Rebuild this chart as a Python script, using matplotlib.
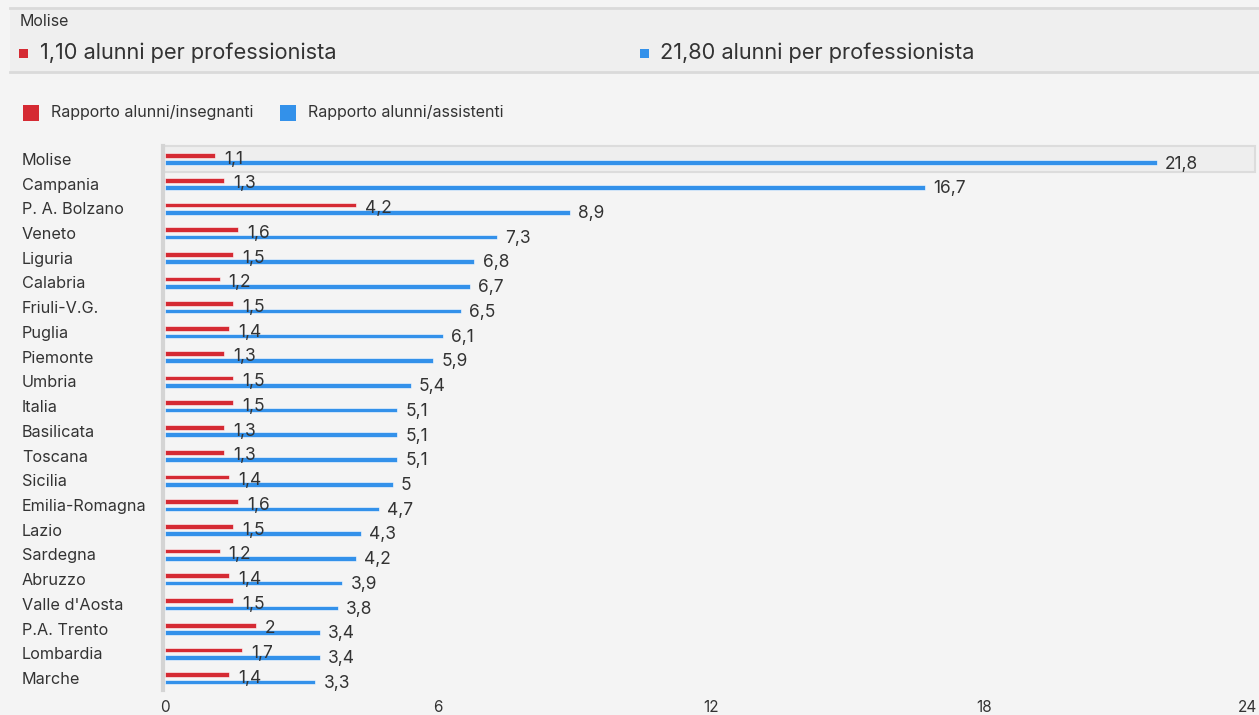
import matplotlib
matplotlib.use("Agg")
import matplotlib.pyplot as plt
from matplotlib.patches import Rectangle
from matplotlib.transforms import blended_transform_factory

plt.rcParams['font.family'] = ['Inter', 'DejaVu Sans']

regioni = ["Molise", "Campania", "P. A. Bolzano", "Veneto", "Liguria", "Calabria",
           "Friuli-V.G.", "Puglia", "Piemonte", "Umbria", "Italia", "Basilicata",
           "Toscana", "Sicilia", "Emilia-Romagna", "Lazio", "Sardegna", "Abruzzo",
           "Valle d'Aosta", "P.A. Trento", "Lombardia", "Marche"]
insegnanti = [1.1, 1.3, 4.2, 1.6, 1.5, 1.2, 1.5, 1.4, 1.3, 1.5, 1.5, 1.3,
              1.3, 1.4, 1.6, 1.5, 1.2, 1.4, 1.5, 2, 1.7, 1.4]
assistenti = [21.8, 16.7, 8.9, 7.3, 6.8, 6.7, 6.5, 6.1, 5.9, 5.4, 5.1, 5.1,
              5.1, 5, 4.7, 4.3, 4.2, 3.9, 3.8, 3.4, 3.4, 3.3]
serie = ["Rapporto alunni/insegnanti", "Rapporto alunni/assistenti"]
xticks = [0, 6, 12, 18, 24]
selezione = 0  # riga evidenziata (Molise)

RED = '#d52a33'
BLUE = '#3391ea'
BG = '#f4f4f4'
TXT = '#333333'


def fmt(v):
    return f"{v:g}".replace('.', ',')


W, H = 1259, 715
fig = plt.figure(figsize=(W / 100, H / 100), dpi=100, facecolor=BG)

# header box
fig.patches.append(Rectangle((10 / W, 1 - 72 / H), 1, 64 / H, transform=fig.transFigure,
                             facecolor='#efefef', edgecolor='none', zorder=0))
for yy in (8, 72):
    fig.add_artist(plt.Line2D([10 / W, 1], [1 - yy / H, 1 - yy / H], color='#dadada', lw=2))
fig.text(20 / W, 1 - 22 / H, regioni[selezione], fontsize=11.5, color=TXT, va='center')
fig.patches.append(Rectangle((19 / W, 1 - 58 / H), 9 / W, 9 / H, transform=fig.transFigure,
                             facecolor=RED, edgecolor='none'))
fig.text(40 / W, 1 - 53 / H, f"{insegnanti[selezione]:.2f}".replace('.', ',') + " alunni per professionista",
         fontsize=15.7, color=TXT, va='center')
fig.patches.append(Rectangle((640 / W, 1 - 58 / H), 9 / W, 9 / H, transform=fig.transFigure,
                             facecolor=BLUE, edgecolor='none'))
fig.text(660 / W, 1 - 53 / H, f"{assistenti[selezione]:.2f}".replace('.', ',') + " alunni per professionista",
         fontsize=15.7, color=TXT, va='center')

# legend
for x0, col, lab in [(23, RED, serie[0]), (280, BLUE, serie[1])]:
    fig.patches.append(Rectangle((x0 / W, 1 - 121 / H), 16 / W, 16 / H, transform=fig.transFigure,
                                 facecolor=col, edgecolor='none'))
    fig.text((x0 + 28) / W, 1 - 113 / H, lab, fontsize=11.5, color=TXT, va='center')

ax = fig.add_axes([165 / W, 1 - 690 / H, 1092 / W, 544 / H])
ax.set_facecolor(BG)
n = len(regioni)
ys = list(range(n))
off = 0.148
h = 0.19

# highlight row
ax.add_patch(Rectangle((-0.05, selezione - 0.52), 24.0, 1.04, facecolor='#eeeeee',
                       edgecolor='#dcdcdc', lw=1.5, zorder=0, clip_on=False))

ax.barh([y - off for y in ys], insegnanti, height=h, color=RED, edgecolor='white', lw=0.4, zorder=2)
ax.barh([y + off for y in ys], assistenti, height=h, color=BLUE, edgecolor='white', lw=0.4, zorder=2)

for y, a, b in zip(ys, insegnanti, assistenti):
    ax.annotate(fmt(a), (a, y), xytext=(6.5, 0), textcoords='offset points',
                fontsize=12.5, color=TXT, va='center', zorder=3)
    ax.annotate(fmt(b), (b, y + off + 0.05), xytext=(6, 0), textcoords='offset points',
                fontsize=12.5, color=TXT, va='center', zorder=3)

ax.set_xlim(0, 24)
ax.set_ylim(n - 0.53, -0.53)
ax.set_yticks([])
ax.set_xticks(xticks)
labs = ax.set_xticklabels([str(t) for t in xticks], fontsize=11, color=TXT)
labs[-1].set_ha('right')
ax.tick_params(axis='x', length=0, pad=7)
for s in ['top', 'right', 'bottom']:
    ax.spines[s].set_visible(False)
ax.spines['left'].set_color('#d4d4d4')
ax.spines['left'].set_linewidth(3)
ax.spines['left'].set_position(('outward', 1.5))

tr = blended_transform_factory(fig.transFigure, ax.transData)
for y, name in zip(ys, regioni):
    ax.text(22 / W, y + 0.05, name, transform=tr, fontsize=11.7, color=TXT, va='center', clip_on=False)

fig.savefig("out.png", dpi=100, facecolor=BG)
